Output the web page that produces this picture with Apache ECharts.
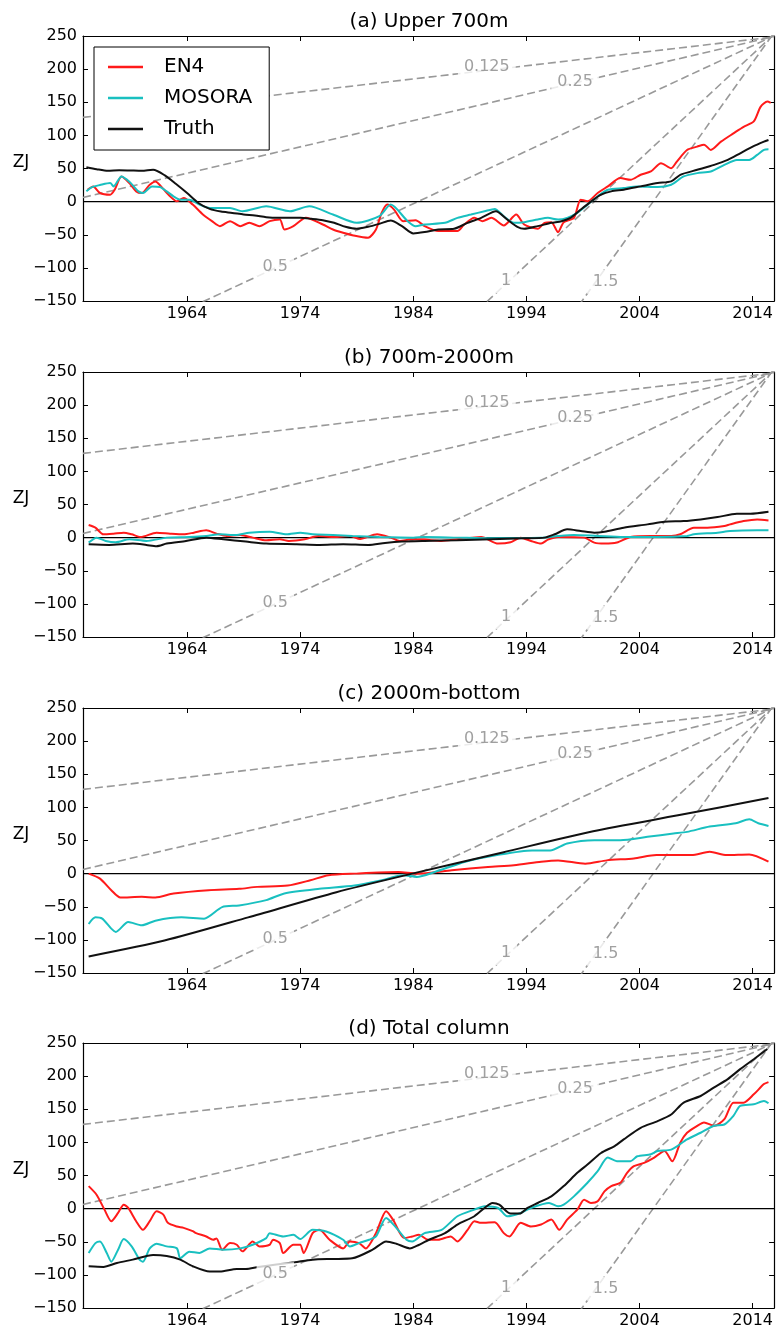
<!DOCTYPE html>
<html><head><meta charset="utf-8">
<script src="https://cdn.jsdelivr.net/npm/echarts@6/dist/echarts.min.js"></script>
<style>html,body{margin:0;padding:0;background:#fff}#c{width:776px;height:1331px}</style>
</head><body><div id="c"></div><script>
// ---------- DATA ----------
const panelTitles = ['(a) Upper 700m', '(b) 700m-2000m', '(c) 2000m-bottom', '(d) Total column'];
const seriesNames = ['EN4', 'MOSORA', 'Truth'];
const xTickValues = [1964, 1974, 1984, 1994, 2004, 2014];
const rates = [0.125, 0.25, 0.5, 1, 1.5];           // W m-2 reference lines
const rateLabels = ['0.125', '0.25', '0.5', '1', '1.5'];
const rateLabelAt = [[1990.5, 203], [1998.3, 181], [1971.8, -99], [1992.2, -120], [2001.0, -121]];
const zjPerYearPerWm2 = 15.9;
const rateAnchor = [2015.6, 248];

const upperEN4 = [[1955.2,18],[1955.7,23],[1956.3,13],[1957.2,10.5],[1957.6,18],[1958.2,38],[1958.9,28],[1959.5,15.5],[1960,13],[1960.7,25.5],[1961.2,30.5],[1961.7,23],[1962.5,8],[1963.1,0.5],[1963.7,5.5],[1964.5,-4.5],[1965.4,-19.5],[1966.2,-29.5],[1966.9,-37],[1967.8,-29.5],[1968.7,-37],[1969.5,-32],[1970.4,-37],[1971.3,-29.5],[1972.2,-27],[1972.6,-42],[1973.4,-37],[1974.5,-24.5],[1976,-34.5],[1976.9,-42],[1977.8,-47],[1978.7,-51],[1980,-54.5],[1980.7,-42],[1981.2,-17],[1981.7,-4.5],[1982.3,-12],[1983.1,-29.5],[1984.2,-28],[1985,-37],[1986.2,-44.5],[1987.9,-44.5],[1988.5,-34.5],[1989.4,-24.5],[1990.1,-29.5],[1990.9,-24.5],[1992,-36],[1993.1,-19.5],[1993.8,-34.5],[1995,-41],[1995.6,-32],[1996.2,-31],[1996.8,-46],[1997.3,-31],[1998.2,-24.5],[1998.8,3],[1999.4,0.5],[2000.3,13],[2001.2,23],[2002.3,35.5],[2003.2,33],[2004.1,40.5],[2005,45.5],[2005.9,58],[2006.8,50.5],[2007.3,60.5],[2008.2,78],[2009.1,83],[2009.7,86],[2010.3,78],[2011.2,90.5],[2012.3,103],[2013.2,113],[2014.1,121],[2014.7,143],[2015.3,151],[2015.6,149]];
const upperMOSORA = [[1955.1,15.5],[1955.6,22],[1956.3,25],[1957.2,28],[1957.5,23],[1958.2,38],[1958.9,30],[1959.7,15.5],[1960.1,13],[1960.9,23],[1961.6,22],[1962.2,15.5],[1962.8,8],[1963.4,3],[1964.2,3],[1965.1,-4.5],[1966,-9.5],[1967.8,-9.5],[1968.9,-14.5],[1971,-7],[1973.1,-14.5],[1974.8,-7],[1976.9,-19.5],[1979,-32],[1981,-22],[1982,-4.5],[1983.5,-29.5],[1984.2,-37],[1985,-34.5],[1986.8,-32],[1987.9,-24.5],[1989.1,-19.5],[1990.3,-14.5],[1991.2,-11],[1992,-22],[1992.9,-32],[1993.8,-31],[1995,-27],[1995.9,-24.5],[1996.8,-27],[1997.6,-24.5],[1998.5,-17],[1999.4,-4.5],[2000.3,8],[2001.2,18],[2002.6,20.5],[2003.8,23],[2005.6,22],[2006.8,25.5],[2007.9,38],[2009.1,43],[2010.3,45.5],[2011.5,55.5],[2012.6,63],[2013.7,63],[2014.4,70.5],[2015,78],[2015.4,79]];
const upperTruth = [[1955.1,52],[1956,49],[1957,46.5],[1958,47.5],[1959,47],[1960,46.5],[1961,48],[1962,40],[1963,27],[1964,13],[1965,-2],[1966,-11],[1967,-15],[1968,-17],[1969,-19.5],[1970,-21],[1971,-23.5],[1972,-24.5],[1973,-24.5],[1974,-24.5],[1975,-26],[1976,-28],[1977,-32],[1978,-38],[1979,-41],[1980,-38],[1981,-33.5],[1982,-28.5],[1983,-37],[1984,-48],[1985,-46],[1986.2,-42],[1987.6,-41],[1988.8,-32],[1990,-24.5],[1991.3,-14.5],[1992.3,-27],[1993.2,-38],[1993.8,-41],[1995,-37],[1996.2,-32],[1997.1,-29.5],[1997.9,-24.5],[1998.8,-12],[1999.7,0],[2000.6,10.5],[2001.5,15.5],[2002.6,18],[2004.1,23],[2005.6,28],[2006.8,30.5],[2007.6,40.5],[2009.1,48],[2010.6,55.5],[2011.8,63],[2012.9,73],[2014,83],[2015,90.5],[2015.4,93]];

const midEN4 = [[1955.3,19],[1955.9,15],[1956.6,5],[1957.5,6],[1958.4,7.5],[1959.1,5],[1959.9,1],[1961.3,7.5],[1962.5,6],[1963.7,5],[1964.6,7.5],[1965.7,11],[1966.6,6],[1967.5,2.5],[1968.7,4],[1969.8,0],[1971,-4],[1972.2,-2.5],[1973,-5],[1974.4,-2.5],[1975.6,2.5],[1977,1],[1978.4,2.5],[1979.3,-2],[1980.8,5],[1982,0],[1982.8,-5],[1983.8,-2.5],[1985,-3],[1986.5,-5],[1987.9,-2.5],[1990,1],[1991.5,-9],[1992.6,-7],[1993.5,0],[1994.4,-5],[1995.3,-9],[1995.9,-3],[1996.8,1],[1999.1,0],[2000,-7.5],[2000.9,-9],[2002,-7.5],[2003.2,1],[2005,2.5],[2006.8,2.5],[2007.6,5],[2008.8,15],[2010,15],[2011.5,17.5],[2012,20],[2013.2,25],[2014.4,27.5],[2015.4,26]];
const midMOSORA = [[1955.3,-7.5],[1956,0],[1956.8,-5],[1957.7,-7],[1958.9,-2.5],[1960.4,-5],[1962.2,0],[1964.2,1],[1965.7,2.5],[1966.9,5],[1968.3,4],[1969.5,7.5],[1971.3,9],[1972.8,5],[1974,7.5],[1975.1,5],[1976.9,4],[1978.6,2.5],[1981,1],[1984,0],[1985,1],[1987.9,0],[1990.9,-1],[1995.3,0],[1996.8,2.5],[1998.2,4],[2000.3,2.5],[2002.6,1],[2005.6,1],[2008.2,2.5],[2008.8,5],[2010.9,7.5],[2012,10],[2014.4,11],[2015.4,11]];
const midTruth = [[1955.3,-10],[1957.1,-11],[1959.2,-9],[1960.4,-11],[1961.3,-13],[1962.2,-9],[1963.9,-5],[1965.7,0],[1967.2,-2.5],[1969.2,-6],[1971,-9],[1973.7,-10],[1975.7,-11],[1977.8,-10],[1980,-11],[1981.5,-8],[1983,-6],[1985,-5],[1987.9,-4],[1990.9,-2.5],[1993.8,-1],[1995.6,0],[1996.5,5],[1997.6,12.5],[1998.8,10],[2000,7.5],[2000.9,9],[2002.6,15],[2004.7,20],[2006.2,24],[2007.9,25],[2009.4,27.5],[2010.9,31],[2012.6,36],[2013.8,36],[2015.4,39]];

const deepEN4 = [[1955.3,0],[1956.3,-7.5],[1957.3,-25],[1958.1,-36],[1960,-35],[1961.2,-36],[1962.8,-30],[1965.9,-25],[1968.6,-23],[1970.2,-20],[1972.9,-18],[1974.9,-10],[1976.5,-2.5],[1978.8,0],[1982.7,2.5],[1984.3,0],[1987.4,5],[1990.6,10],[1992.9,12.5],[1995.3,18],[1996.8,20],[1999.2,15],[2001.1,20],[2003.5,23],[2005.5,28],[2008.6,28],[2010.2,33],[2011.7,28],[2013.7,29],[2015.4,18]];
const deepMOSORA = [[1955.3,-76],[1955.9,-66],[1956.5,-68],[1957.3,-83],[1957.7,-88],[1958.8,-73],[1960,-78],[1961.2,-71],[1963.5,-66],[1965.5,-68],[1967.1,-50.5],[1968.6,-48],[1971,-40],[1972.6,-30],[1975.7,-23],[1978.8,-18],[1981.2,-10],[1983.1,-2.5],[1984.3,-5],[1985.9,2.5],[1988.6,18],[1991.4,28],[1994.5,35],[1996.1,35],[1997.6,45.5],[2000,50.5],[2002.3,50.5],[2004.7,55.5],[2007,60.5],[2008.2,63],[2010.2,71],[2012.5,76],[2013.7,82],[2014.5,76],[2015.4,72]];
const deepTruth = [[1955.3,-125],[1962,-101],[1969.4,-66],[1977.2,-28],[1983.9,0],[1991.9,32],[1999.9,64],[2007.4,88],[2015.4,114]];

const totalEN4 = [[1955.3,34],[1956,21],[1956.7,-1.5],[1957.3,-19],[1957.9,-6.5],[1958.4,6],[1958.8,1],[1959.5,-19],[1960.1,-32],[1960.7,-19],[1961.3,-4],[1961.9,-9],[1962.3,-21.5],[1963.1,-27],[1963.7,-29],[1964.5,-34],[1964.8,-37],[1965.7,-42],[1966.3,-47],[1966.6,-45],[1967.1,-62],[1967.8,-52],[1968.4,-54.5],[1968.9,-64.5],[1969.8,-49.5],[1970.4,-57],[1971.3,-54.5],[1971.6,-47],[1972.2,-52],[1972.5,-67],[1973.4,-54.5],[1974,-54.5],[1974.3,-67],[1975.1,-37],[1975.7,-32],[1976.6,-47],[1977.8,-60],[1978.4,-49.5],[1979.2,-52],[1979.8,-60],[1980.7,-37],[1981.6,-4],[1982.2,-16.5],[1983.2,-44.5],[1983.9,-42],[1984.5,-39.5],[1985.3,-47],[1986.2,-47],[1987.3,-42],[1987.9,-49.5],[1988.8,-32],[1989.4,-19],[1990,-21.5],[1991.2,-20.5],[1992,-37],[1992.5,-42],[1993.5,-21.5],[1994.4,-27],[1995.3,-24],[1996.2,-16.5],[1996.9,-32],[1997.6,-16.5],[1998.5,-1.5],[1999.1,13.5],[1999.7,8.5],[2000.3,11],[2000.9,26],[2001.5,34],[2002.3,39],[2002.9,54],[2003.5,64],[2004.4,69],[2005.3,77],[2006.2,87],[2006.9,71.5],[2007.6,99.5],[2008.2,114.5],[2009.1,125],[2009.7,130],[2010.6,125],[2011.5,135],[2012.3,160],[2013.2,160],[2014.1,172.5],[2015,188],[2015.4,191]];
const totalMOSORA = [[1955.3,-67],[1955.9,-52],[1956.3,-49.5],[1956.9,-67],[1957.3,-80],[1957.9,-62],[1958.4,-46],[1959.1,-57],[1959.8,-77],[1960.1,-80],[1960.7,-60],[1961.3,-53],[1962.2,-57],[1963.1,-60],[1963.4,-75],[1964.2,-65],[1965.1,-67],[1966,-60],[1967.2,-62],[1968.7,-60],[1969.8,-54.5],[1971,-44.5],[1971.3,-37],[1972.5,-42],[1973.4,-39.5],[1974,-46],[1975.1,-32],[1976.3,-34.5],[1977.8,-47],[1978.4,-57],[1979.2,-52],[1980.1,-47],[1980.7,-42],[1981.6,-14],[1982.5,-29],[1983.4,-47],[1983.9,-49.5],[1985,-37],[1986.5,-32],[1987.9,-11.5],[1989.4,-1.5],[1990.3,3.5],[1991.5,1],[1992.3,-11.5],[1993.5,-6.5],[1994.4,1],[1996,8.5],[1996.8,3.5],[1997.3,6],[1998.2,18.5],[1999.4,39],[2000.3,56.5],[2001.2,77],[2002,71.5],[2003.2,71.5],[2003.8,79],[2005,82],[2005.6,87],[2006.8,89],[2008.2,104.5],[2009.4,114.5],[2010.6,125],[2011.5,127],[2012.3,140],[2012.9,155],[2014.1,157.5],[2015,162.5],[2015.4,159]];
const totalTruth = [[1955.3,-87],[1956.6,-88],[1957.8,-82],[1959.2,-77],[1961,-70],[1962.2,-71.5],[1963.4,-77],[1964.5,-87],[1966,-95],[1966.9,-95],[1968.4,-91],[1969.2,-91],[1970.3,-88],[1973.5,-81],[1975.1,-77],[1976.9,-76],[1978.6,-75],[1980.4,-62],[1981.6,-49.5],[1982.5,-53],[1983.7,-60],[1984.2,-57],[1985.4,-47],[1986.8,-37],[1987.9,-24],[1989.4,-11.5],[1990.3,1],[1991,8.5],[1991.6,6],[1992.6,-7.5],[1993.4,-7.5],[1994.1,1],[1995,8.5],[1996.2,18.5],[1997.3,34],[1998.5,54],[1999.4,66.5],[2000.6,84],[2001.8,94.5],[2002.6,104.5],[2004.1,122],[2005.6,132],[2006.8,142],[2007.9,160],[2009.4,170],[2010.6,183],[2011.8,195.5],[2012.9,210.5],[2014.1,225.5],[2015.3,241]];

const panelData = [
  [upperEN4, upperMOSORA, upperTruth],
  [midEN4, midMOSORA, midTruth],
  [deepEN4, deepMOSORA, deepTruth],
  [totalEN4, totalMOSORA, totalTruth]
];

// ---------- LAYOUT / STYLE ----------
const FONT = 'DejaVu Sans';
const XMIN = 1954.8, XMAX = 2015.9, YMIN = -150, YMAX = 250;
const GRID_LEFT = 83, GRID_W = 692, GRID_H = 265;
const gridTops = [36, 372, 708, 1043];
const colors = ['#ff1a1a', '#19c0c0', '#111111'];

const chart = echarts.init(document.getElementById('c'), null, {renderer: 'canvas', width: 776, height: 1331});

const grids = [], xAxes = [], yAxes = [], series = [], graphics = [];
gridTops.forEach((top, i) => {
  grids.push({left: GRID_LEFT, top: top, width: GRID_W, height: GRID_H, containLabel: false});
  const tick = {inside: true, length: 5, lineStyle: {color: '#000', width: 1}};
  const line = {show: true, onZero: false, lineStyle: {color: '#000', width: 1.2}};
  xAxes.push({gridIndex: i, type: 'value', min: XMIN, max: XMAX, position: 'bottom',
    axisLine: line, splitLine: {show: false},
    axisTick: Object.assign({customValues: xTickValues}, tick),
    axisLabel: {customValues: xTickValues, fontFamily: FONT, fontSize: 16, color: '#000', margin: 5,
      formatter: v => String(Math.round(v))}});
  xAxes.push({gridIndex: i, type: 'value', min: XMIN, max: XMAX, position: 'top',
    axisLine: line, splitLine: {show: false},
    axisTick: Object.assign({customValues: xTickValues}, tick),
    axisLabel: {show: false}});
  yAxes.push({gridIndex: i, type: 'value', min: YMIN, max: YMAX, interval: 50, position: 'left',
    axisLine: line, splitLine: {show: false}, axisTick: tick,
    axisLabel: {fontFamily: FONT, fontSize: 16, color: '#000', margin: 6,
      formatter: v => (v < 0 ? '\u2212' + Math.abs(v) : String(v))}});
  yAxes.push({gridIndex: i, type: 'value', min: YMIN, max: YMAX, interval: 50, position: 'right',
    axisLine: line, splitLine: {show: false}, axisTick: tick, axisLabel: {show: false}});

  const xi = 2 * i, yi = 2 * i;
  // reference heating-rate lines
  rates.forEach(r => {
    const k = r * zjPerYearPerWm2;
    series.push({type: 'line', xAxisIndex: xi, yAxisIndex: yi, symbol: 'none', silent: true, z: 1,
      clip: true, animation: false,
      lineStyle: {color: '#999999', width: 1.6, type: [8, 4]},
      data: [[XMIN, rateAnchor[1] - k * (rateAnchor[0] - XMIN)], rateAnchor,
             [XMAX, rateAnchor[1] + k * (XMAX - rateAnchor[0])]]});
  });
  // zero line
  series.push({type: 'line', xAxisIndex: xi, yAxisIndex: yi, symbol: 'none', silent: true, z: 2,
    animation: false, lineStyle: {color: '#000', width: 1.3}, data: [[XMIN, 0], [XMAX, 0]]});
  // data lines
  panelData[i].forEach((d, s) => {
    series.push({type: 'line', name: seriesNames[s], xAxisIndex: xi, yAxisIndex: yi, symbol: 'none',
      z: 3, animation: false, smooth: 0.25, color: colors[s],
      lineStyle: {color: colors[s], width: 2}, data: d});
  });
  // rate labels
  series.push({type: 'scatter', xAxisIndex: xi, yAxisIndex: yi, symbolSize: 1, silent: true, z: 6,
    animation: false, itemStyle: {color: 'rgba(0,0,0,0)'},
    label: {show: true, position: 'inside', formatter: p => p.data[2], fontFamily: FONT, fontSize: 16,
      color: '#888', backgroundColor: '#fff', padding: [4, 6]},
    data: rateLabelAt.map((p, j) => [p[0], p[1], rateLabels[j]])});

  graphics.push({type: 'text', x: GRID_LEFT + GRID_W / 2, y: top - 14, z: 10,
    style: {text: panelTitles[i], font: '20px "DejaVu Sans"', fill: '#000', align: 'center', verticalAlign: 'middle'}});
  graphics.push({type: 'text', x: 21, y: top + 127, z: 10,
    style: {text: 'ZJ', font: '17px "DejaVu Sans"', fill: '#000', align: 'center', verticalAlign: 'middle'}});
});

chart.setOption({
  animation: false,
  backgroundColor: '#fff',
  grid: grids, xAxis: xAxes, yAxis: yAxes, series: series, graphic: graphics,
  legend: {data: seriesNames, left: 94, top: 47, orient: 'vertical', icon: 'rect',
    itemWidth: 35, itemHeight: 2.5, itemGap: 11, selectedMode: false,
    backgroundColor: '#fff', borderColor: '#000', borderWidth: 1, borderRadius: 0,
    padding: [10, 17, 11, 14],
    textStyle: {fontFamily: FONT, fontSize: 20, color: '#000', lineHeight: 20, padding: [0, 0, 0, 16]}}
});
</script></body></html>
